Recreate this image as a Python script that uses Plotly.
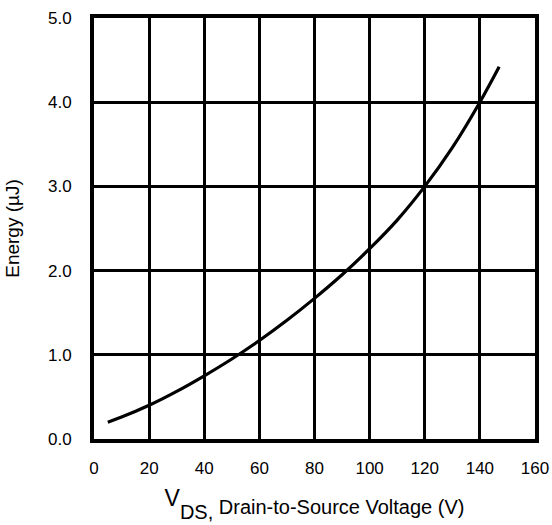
import plotly.graph_objects as go

vds = [5, 10, 20, 30, 40, 50, 60, 70, 80, 90, 100, 110, 120, 130, 140, 147]
energy = [0.2, 0.26, 0.4, 0.565, 0.75, 0.95, 1.17, 1.41, 1.67, 1.95, 2.26, 2.6, 3.0, 3.46, 4.0, 4.42]

x_ticks = [0, 20, 40, 60, 80, 100, 120, 140, 160]
y_ticks = [0, 1, 2, 3, 4, 5]

font_family = "Liberation Sans, Arial, sans-serif"

fig = go.Figure()
fig.add_trace(go.Scatter(x=vds, y=energy, mode="lines",
                         line=dict(color="black", width=3.2, shape="spline"),
                         showlegend=False))

fig.update_layout(
    width=552, height=525,
    margin=dict(l=94, r=17, t=18, b=86),
    paper_bgcolor="white", plot_bgcolor="white",
    font=dict(family=font_family, color="black", size=17),
)
fig.update_xaxes(
    range=[0, 160], tickvals=x_ticks, ticktext=[str(v) for v in x_ticks],
    showgrid=True, gridcolor="black", gridwidth=2.5,
    showline=True, linecolor="black", linewidth=4, mirror=True,
    zeroline=False, ticks="", ticklabelstandoff=11, automargin=False,
    tickfont=dict(size=17),
    title=dict(text="<sup><span style='font-size:23px'>V</span></sup><sub><span style='font-size:20px'>DS,</span></sub> Drain-to-Source Voltage (V)",
               font=dict(size=20), standoff=24),
)
fig.update_yaxes(
    range=[0, 5], tickvals=y_ticks, ticktext=[f"{v:.1f}" for v in y_ticks],
    showgrid=True, gridcolor="black", gridwidth=2.5,
    showline=True, linecolor="black", linewidth=4, mirror=True,
    zeroline=False, ticks="", ticklabelstandoff=15, automargin=False,
    tickfont=dict(size=17),
    title=dict(text="Energy (µJ)", font=dict(size=19), standoff=24),
)

fig.write_html("out.html")
